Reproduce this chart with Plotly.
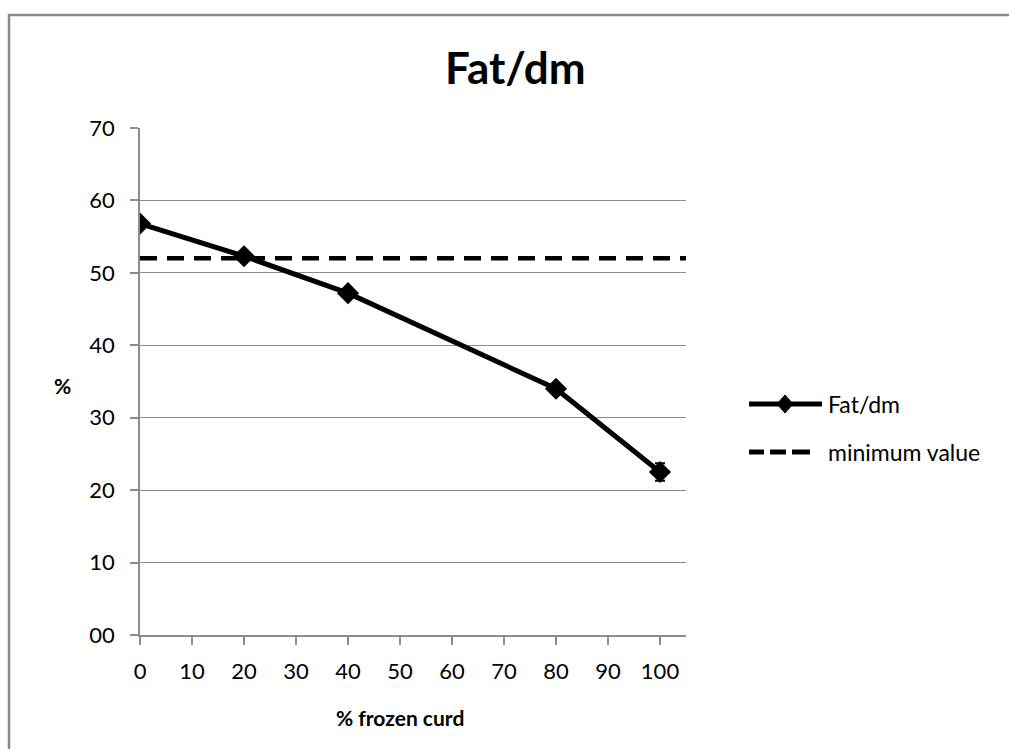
import plotly.graph_objects as go

# Fat in dry matter versus share of frozen curd
frozen_curd = [0, 20, 40, 80, 100]
fat_dm = [56.8, 52.3, 47.2, 34.0, 22.5]
fat_dm_err = [0.6, 0.6, 0.6, 0.6, 1.2]

# Legal minimum, drawn across the full axis width
min_x = [0, 105]
min_value = [52, 52]

y_ticks = [0, 10, 20, 30, 40, 50, 60, 70]
y_tick_text = ["00", "10", "20", "30", "40", "50", "60", "70"]
x_ticks = [0, 10, 20, 30, 40, 50, 60, 70, 80, 90, 100]

series_names = ["Fat/dm", "minimum value"]

FONT = "Lato"
GRID = "#8c8c8c"

# plot-area geometry in pixels (used to place decorations in paper units)
W, H = 1009, 749
L, R, T, B = 140, 323, 128, 114
PW, PH = W - L - R, H - T - B


def px(x):
    return (x - L) / PW


def py(y):
    return (H - B - y) / PH


fig = go.Figure()

fig.add_trace(go.Scatter(
    x=frozen_curd, y=fat_dm, name=series_names[0], mode="lines+markers",
    line=dict(color="black", width=5),
    marker=dict(symbol="diamond", size=17, color="black"),
    error_y=dict(type="data", array=fat_dm_err, visible=True,
                 color="black", thickness=2, width=5),
    showlegend=False,
))

fig.add_trace(go.Scatter(
    x=min_x, y=min_value, name=series_names[1], mode="lines",
    line=dict(color="black", width=4.5, dash="17px,10px"),
    showlegend=False,
))

# hand-drawn legend: long solid line with diamond, short dashed line
leg_x0, leg_x1 = 749, 822
row1, row2 = 404, 452
shapes = [
    # chart-area frame
    dict(type="rect", xref="paper", yref="paper",
         x0=px(9), x1=px(1012), y0=py(752), y1=py(15),
         line=dict(color="#8a8a8a", width=2.5), layer="below"),
    dict(type="line", xref="paper", yref="paper",
         x0=px(leg_x0), x1=px(leg_x1), y0=py(row1), y1=py(row1),
         line=dict(color="black", width=5)),
    dict(type="path", xref="paper", yref="paper",
         path="M{},{} L{},{} L{},{} L{},{} Z".format(
             px(785), py(row1 - 9), px(793), py(row1),
             px(785), py(row1 + 9), px(777), py(row1)),
         fillcolor="black", line=dict(color="black", width=1)),
]
for a, b in [(749, 764), (770, 786), (792, 810)]:
    shapes.append(dict(type="line", xref="paper", yref="paper",
                       x0=px(a), x1=px(b), y0=py(row2), y1=py(row2),
                       line=dict(color="black", width=5)))

fig.update_layout(
    width=W, height=H,
    margin=dict(l=L, r=R, t=T, b=B),
    paper_bgcolor="white", plot_bgcolor="white",
    font=dict(family=FONT, size=22, color="black"),
    showlegend=False,
    xaxis=dict(range=[0, 105], tickvals=x_ticks, showgrid=False,
               showline=True, linecolor=GRID, linewidth=1.5,
               ticks="outside", ticklen=8, tickcolor=GRID, tickwidth=1.5,
               ticklabelstandoff=8,
               zeroline=False, tickfont=dict(size=22)),
    yaxis=dict(range=[0, 70], tickvals=y_ticks, ticktext=y_tick_text,
               showgrid=True, gridcolor=GRID, gridwidth=1.2,
               showline=True, linecolor=GRID, linewidth=1.5,
               ticks="outside", ticklen=8, tickcolor=GRID, tickwidth=1.5,
               ticklabelstandoff=11,
               zeroline=False, tickfont=dict(size=22)),
    shapes=shapes,
    annotations=[
        dict(text="<b>Fat/dm</b>", xref="paper", yref="paper",
             x=px(515), y=py(67), xanchor="center", yanchor="middle",
             showarrow=False, font=dict(family=FONT, size=44)),
        dict(text="<b>% frozen curd</b>", xref="paper", yref="paper",
             x=px(400), y=py(717), xanchor="center", yanchor="middle",
             showarrow=False, font=dict(family=FONT, size=21)),
        dict(text="<b>%</b>", xref="paper", yref="paper",
             x=px(62), y=py(386), xanchor="center", yanchor="middle",
             showarrow=False, font=dict(family=FONT, size=21)),
        dict(text=series_names[0], xref="paper", yref="paper",
             x=px(826), y=py(row1), xanchor="left", yanchor="middle",
             showarrow=False, font=dict(family=FONT, size=23)),
        dict(text=series_names[1], xref="paper", yref="paper",
             x=px(826), y=py(row2), xanchor="left", yanchor="middle",
             showarrow=False, font=dict(family=FONT, size=23)),
    ],
)

fig.write_html("out.html")
